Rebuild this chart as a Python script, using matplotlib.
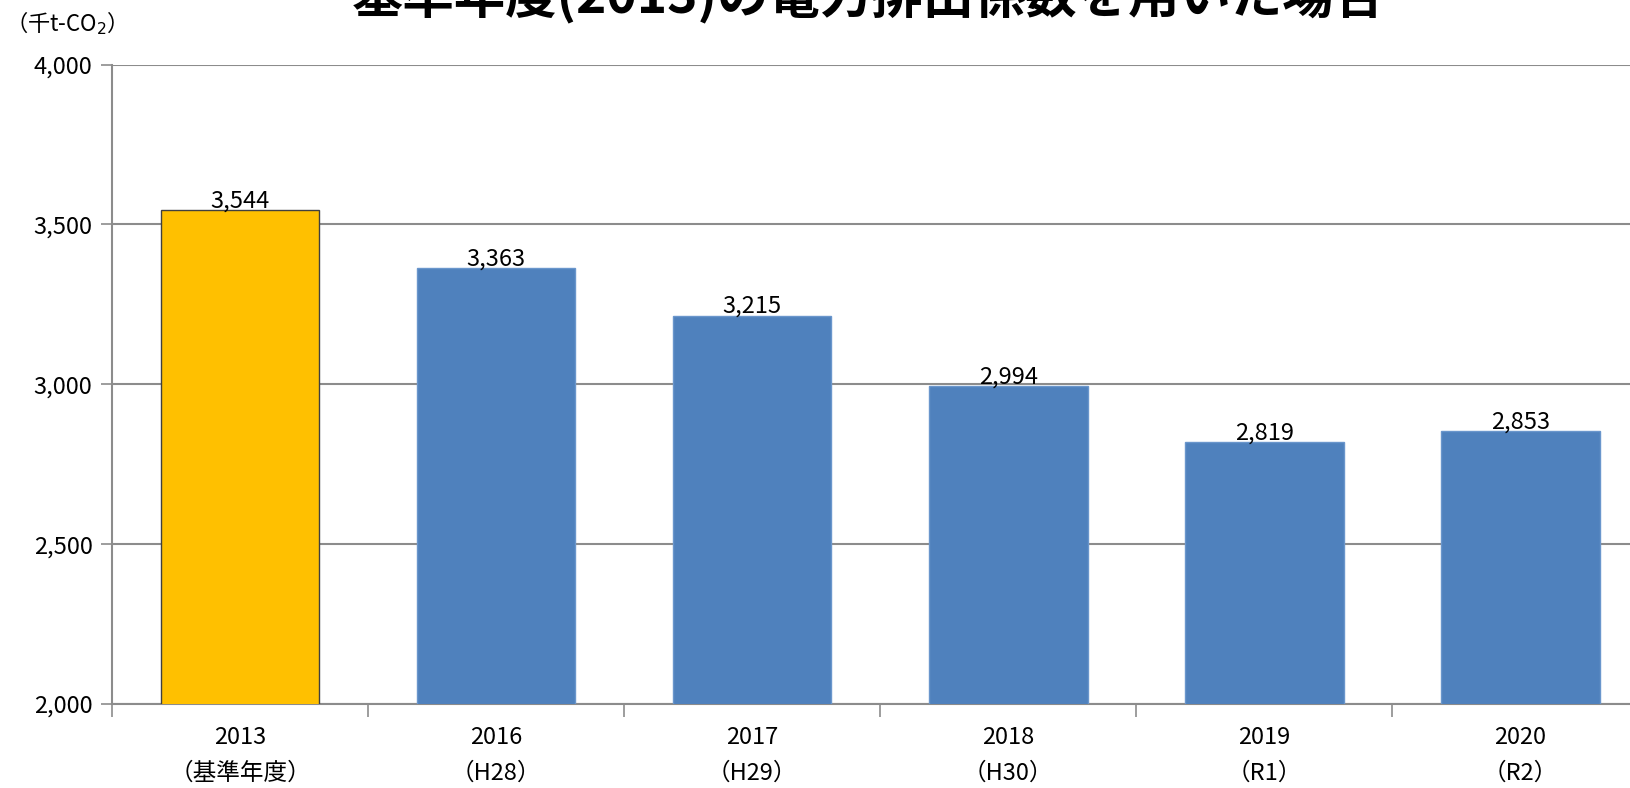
import matplotlib
matplotlib.use("Agg")
import matplotlib.pyplot as plt

plt.rcParams['font.family'] = ['Noto Sans CJK JP', 'DejaVu Sans']

# データ
years = ['2013', '2016', '2017', '2018', '2019', '2020']
sub_labels = ['（基準年度）', '（H28）', '（H29）', '（H30）', '（R1）', '（R2）']
emissions = [3544, 3363, 3215, 2994, 2819, 2853]
bar_colors = ['#FFC000', '#4F81BD', '#4F81BD', '#4F81BD', '#4F81BD', '#4F81BD']
edge_colors = ['#404040', '#6A96CC', '#6A96CC', '#6A96CC', '#6A96CC', '#6A96CC']
y_ticks = [2000, 2500, 3000, 3500, 4000]

fig = plt.figure(figsize=(16.30, 7.88), dpi=100)
# 右端は図の外まで伸ばす（元画像が切れているため）
ax = fig.add_axes([0.0687, 0.1066, 0.9425, 0.8115])

x = range(len(years))
bars = ax.bar(x, emissions, width=0.62, color=bar_colors, edgecolor=edge_colors, linewidth=1.0, zorder=3)

for xi, v in zip(x, emissions):
    ax.text(xi, v - 8, f"{v:,}", ha='center', va='bottom', fontsize=17, zorder=4)

ax.set_xlim(-0.5, len(years) - 0.5)
ax.set_ylim(2000, 4000)
ax.set_yticks(y_ticks)
ax.set_yticklabels([f"{t:,}" for t in y_ticks], fontsize=17)
ax.yaxis.grid(True, color='#8C8C8C', linewidth=1.5, zorder=0)
ax.tick_params(axis='y', direction='out', length=8, width=1.2, color='#8C8C8C', pad=6)

# x軸の目盛りはカテゴリ境界に置く
ax.set_xticks([i - 0.5 for i in range(len(years) + 1)])
ax.set_xticklabels([])
ax.tick_params(axis='x', direction='out', length=9, width=1.2, color='#8C8C8C')
for xi, (yr, sl) in enumerate(zip(years, sub_labels)):
    ax.text(xi, -0.035, yr, transform=ax.get_xaxis_transform(), ha='center', va='top', fontsize=17)
    ax.text(xi, -0.09, sl, transform=ax.get_xaxis_transform(), ha='center', va='top', fontsize=17)

for s in ['top', 'right']:
    ax.spines[s].set_visible(False)
for s in ['left', 'bottom']:
    ax.spines[s].set_color('#8C8C8C')
    ax.spines[s].set_linewidth(1.5)

# 単位
fig.text(0.003, 0.97, '（千t-CO$_2$）', ha='left', va='center', fontsize=16)

# タイトル（上端で切れている）
fig.text(0.533, 1 - 13 / 788, '基準年度(2013)の電力排出係数を用いた場合',
         ha='center', va='baseline', fontsize=37, fontweight='bold')

fig.savefig('out.png', dpi=100)
